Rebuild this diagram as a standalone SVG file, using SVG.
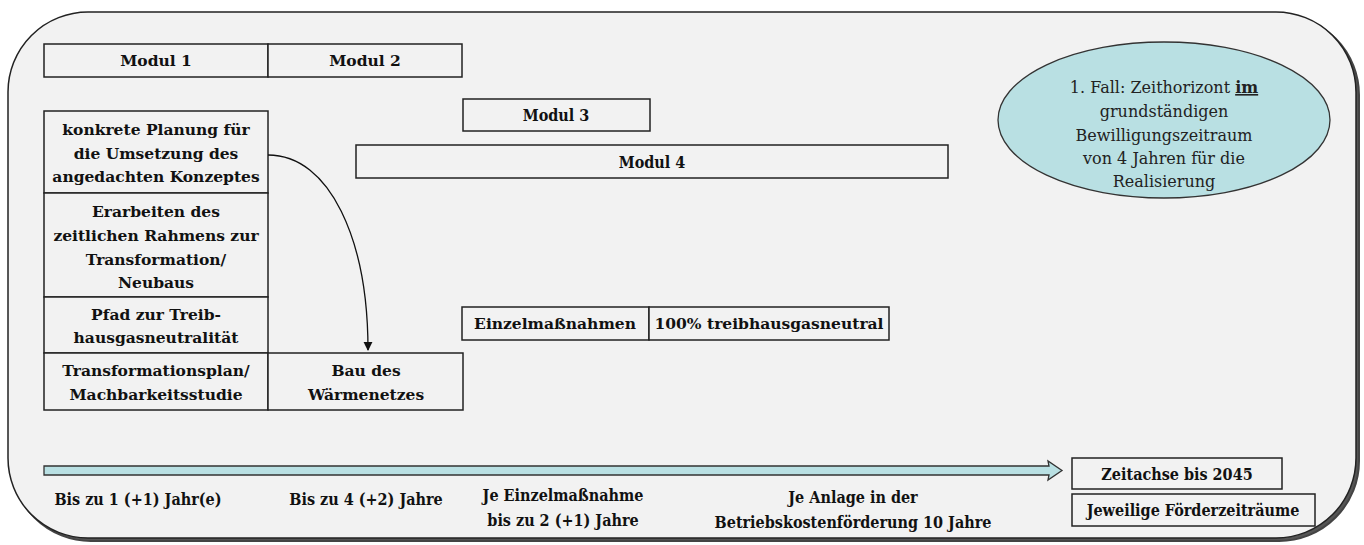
<svg xmlns="http://www.w3.org/2000/svg" width="1364" height="545" viewBox="0 0 1364 545">
<style>
.box{fill:#f2f2f2;stroke:#222;stroke-width:1.5}
.t{font-family:"DejaVu Serif","Liberation Serif","Noto Serif",serif;font-weight:bold;font-size:15.5px;fill:#111;text-anchor:middle}
.n{font-family:"DejaVu Serif Condensed","DejaVu Serif","Liberation Serif",serif;font-weight:bold;font-size:16px;fill:#111;text-anchor:middle}
.r{font-family:"DejaVu Serif Book","DejaVu Serif","Liberation Serif","Noto Serif",serif;font-weight:normal;font-size:16px;fill:#222;text-anchor:middle}
.ln{fill:none;stroke:#111;stroke-width:1.3}
</style>
<defs>
<marker id="ah" viewBox="0 0 10 10" refX="9" refY="5" markerWidth="7" markerHeight="7" orient="auto"><path d="M0,0L10,5L0,10z" fill="#111"/></marker>
</defs>
<rect x="0" y="0" width="1364" height="545" fill="#ffffff"/>
<g id="frame">
<rect x="11" y="15" width="1348" height="526" rx="80" ry="80" fill="#555" stroke="#444" stroke-width="2"/>
<rect x="8" y="12" width="1348" height="526" rx="80" ry="80" fill="#f2f2f2" stroke="#222" stroke-width="1.5"/>
</g>
<g id="modul1"><rect class="box" x="44" y="44" width="224" height="33"/><text class="t" x="156" y="66">Modul 1</text></g>
<g id="modul2"><rect class="box" x="268" y="44" width="194" height="33"/><text class="t" x="365" y="66">Modul 2</text></g>
<g id="modul3"><rect class="box" x="463" y="99" width="187" height="32"/><text class="n" x="556" y="121">Modul 3</text></g>
<g id="modul4"><rect class="box" x="356" y="145" width="592" height="33"/><text class="n" x="652" y="168">Modul 4</text></g>
<g id="planung"><rect class="box" x="44" y="111" width="224" height="82"/>
<text class="t" x="156" y="135">konkrete Planung für</text><text class="t" x="156" y="159">die Umsetzung des</text><text class="t" x="156" y="182">angedachten Konzeptes</text></g>
<g id="rahmen"><rect class="box" x="44" y="193" width="224" height="104"/>
<text class="t" x="156" y="217">Erarbeiten des</text><text class="t" x="156" y="241">zeitlichen Rahmens zur</text><text class="t" x="156" y="265">Transformation/</text><text class="t" x="156" y="288">Neubaus</text></g>
<g id="pfad"><rect class="box" x="44" y="297" width="224" height="56"/>
<text class="t" x="156" y="320">Pfad zur Treib-</text><text class="t" x="156" y="343">hausgasneutralität</text></g>
<g id="transformationsplan"><rect class="box" x="44" y="353" width="224" height="57"/>
<text class="t" x="156" y="376">Transformationsplan/</text><text class="t" x="156" y="400">Machbarkeitsstudie</text></g>
<g id="bau"><rect class="box" x="268" y="353" width="195" height="57"/>
<text class="t" x="366" y="376">Bau des</text><text class="t" x="366" y="400">Wärmenetzes</text></g>
<g id="einzel"><rect class="box" x="462" y="307" width="187" height="33"/><text class="t" x="555" y="329">Einzelmaßnahmen</text></g>
<g id="neutral"><rect class="box" x="649" y="307" width="240" height="33"/><text class="t" x="769" y="329">100% treibhausgasneutral</text></g>
<g id="fall">
<ellipse cx="1164" cy="120" rx="166" ry="78" fill="#b9e0e3" stroke="#333" stroke-width="1.3"/>
<text class="r" x="1164" y="93">1. Fall: Zeithorizont <tspan font-weight="bold" text-decoration="underline">im</tspan></text>
<text class="r" x="1164" y="117">grundständigen</text>
<text class="r" x="1164" y="141">Bewilligungszeitraum</text>
<text class="r" x="1164" y="164">von 4 Jahren für die</text>
<text class="r" x="1164" y="187">Realisierung</text>
</g>
<g id="zeitachse"><rect class="box" x="1072" y="458" width="210" height="31"/><text class="n" x="1177" y="480">Zeitachse bis 2045</text></g>
<g id="foerder"><rect class="box" x="1072" y="494" width="243" height="32"/><text class="n" x="1193" y="516">Jeweilige Förderzeiträume</text></g>
<g id="labels">
<text class="n" x="138" y="505">Bis zu 1 (+1) Jahr(e)</text>
<text class="n" x="366" y="505">Bis zu 4 (+2) Jahre</text>
<text class="n" x="563" y="501">Je Einzelmaßnahme</text>
<text class="n" x="563" y="526">bis zu 2 (+1) Jahre</text>
<text class="n" x="853" y="503">Je Anlage in der</text>
<text class="n" x="853" y="528">Betriebskostenförderung  10 Jahre</text>
</g>
<g id="connectors">
<path class="ln" d="M268,155 C330,155 368,240 368,350" marker-end="url(#ah)"/>
<path d="M44,466 L1049,466 L1048,461 L1062,470.5 L1048,480 L1049,475 L44,475 Z" fill="#b9e0e3" stroke="#333" stroke-width="1.3"/>
</g>
</svg>
